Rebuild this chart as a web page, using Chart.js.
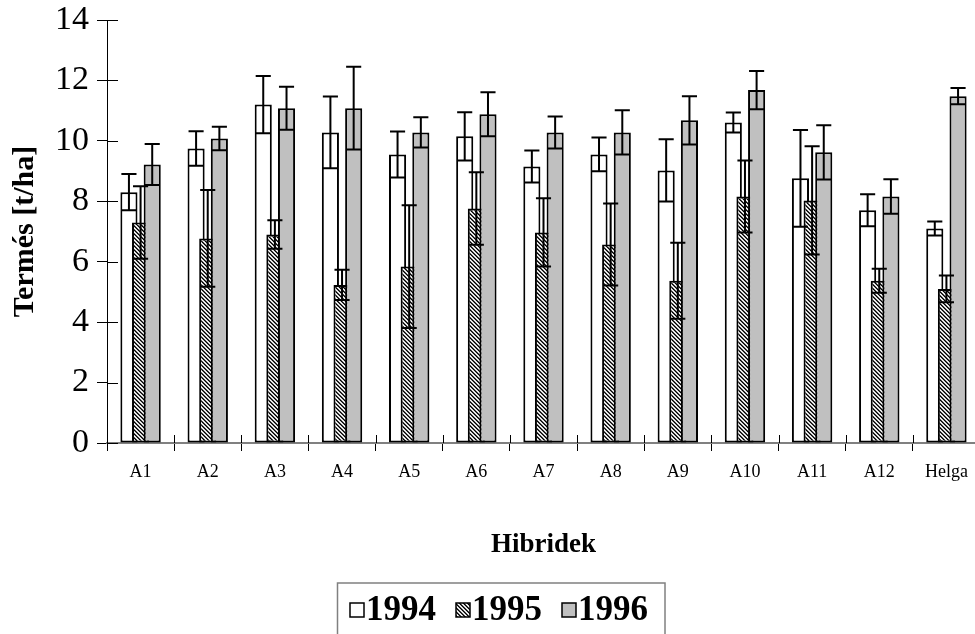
<!DOCTYPE html>
<html>
<head>
<meta charset="utf-8">
<script src="https://cdn.jsdelivr.net/npm/chart.js@4.4.0/dist/chart.umd.min.js"></script>
<style>
    html, body { margin: 0; padding: 0; background: #fff; overflow: hidden; }
    #keret { width: 980px; height: 634px; }
</style>
</head>
<body>
<div id="keret"><canvas id="grafico" width="980" height="634"></canvas></div>
<script>
var hibridek = ['A1', 'A2', 'A3', 'A4', 'A5', 'A6', 'A7', 'A8', 'A9', 'A10', 'A11', 'A12', 'Helga'];
var evek = ['1994', '1995', '1996'];

// termés t/ha és a szórás (hibasáv) évenként
var ev1994 = [8.3, 9.75, 11.2, 10.28, 9.55, 10.15, 9.15, 9.55, 9.02, 10.61, 8.76, 7.7, 7.1];
var hiba1994 = [0.6, 0.57, 0.95, 1.19, 0.76, 0.8, 0.53, 0.56, 1.03, 0.33, 1.6, 0.53, 0.23];
var ev1995 = [7.3, 6.77, 6.9, 5.23, 5.84, 7.76, 6.97, 6.57, 5.37, 8.16, 8.03, 5.37, 5.1];
var hiba1995 = [1.2, 1.6, 0.47, 0.5, 2.03, 1.2, 1.13, 1.36, 1.26, 1.19, 1.79, 0.4, 0.44];
var ev1996 = [9.22, 10.08, 11.08, 11.08, 10.28, 10.88, 10.28, 10.28, 10.68, 11.68, 9.62, 8.16, 11.48];
var hiba1996 = [0.68, 0.39, 0.71, 1.37, 0.5, 0.73, 0.53, 0.73, 0.8, 0.63, 0.9, 0.57, 0.27];

var yTicks = [0, 2, 4, 6, 8, 10, 12, 14];

var hibaSorok = [hiba1994, hiba1995, hiba1996];
var betu = 'Liberation Serif';

var ctx = document.getElementById('grafico').getContext('2d');

// sűrű ferde sraffozás az 1995-ös oszlopokhoz
function sraffozas() {
    var c = document.createElement('canvas');
    c.width = 4;
    c.height = 4;
    var g = c.getContext('2d');
    g.fillStyle = '#fff';
    g.fillRect(0, 0, 4, 4);
    for (var i = 0; i < 4; i++) {
        g.fillStyle = '#000';
        g.fillRect(i, i, 1, 1);
        g.fillStyle = '#505050';
        g.fillRect((i + 1) % 4, i, 1, 1);
        g.fillStyle = '#c8c8c8';
        g.fillRect((i + 3) % 4, i, 1, 1);
    }
    return ctx.createPattern(c, 'repeat');
}

var szinek = ['#ffffff', sraffozas(), '#c0c0c0'];

// az oszlopok sorban rajzolódnak (a későbbi év takarja a korábbit), utána a hibasávok
var rajzSorrend = {
    id: 'rajzSorrend',
    beforeDatasetsDraw: function (chart) {
        var metas = chart.getSortedVisibleDatasetMetas();
        metas.forEach(function (meta) {
            meta.controller.draw();
        });
        var c = chart.ctx;
        var y = chart.scales.y;
        c.save();
        c.strokeStyle = '#000';
        c.lineWidth = 2;
        metas.forEach(function (meta) {
            var hibak = hibaSorok[meta.index];
            var ertekek = chart.data.datasets[meta.index].data;
            meta.data.forEach(function (bar, i) {
                var fel = y.getPixelForValue(ertekek[i] + hibak[i]);
                var le = y.getPixelForValue(ertekek[i] - hibak[i]);
                var w = bar.width / 2 - 1;
                c.beginPath();
                c.moveTo(bar.x, fel);
                c.lineTo(bar.x, le);
                c.moveTo(bar.x - w, fel);
                c.lineTo(bar.x + w, fel);
                c.moveTo(bar.x - w, le);
                c.lineTo(bar.x + w, le);
                c.stroke();
            });
        });
        c.restore();
        return false;
    }
};

// a tengelyjelek a tengelyen átnyúlnak, befelé is
var belsoJelek = {
    id: 'belsoJelek',
    afterDraw: function (chart) {
        var c = chart.ctx;
        var area = chart.chartArea;
        var x = chart.scales.x;
        var y = chart.scales.y;
        c.save();
        c.strokeStyle = '#000';
        c.lineWidth = 1;
        c.beginPath();
        yTicks.forEach(function (v) {
            var py = Math.round(y.getPixelForValue(v)) + 0.5;
            c.moveTo(area.left, py);
            c.lineTo(area.left + 11, py);
        });
        for (var i = 1; i < hibridek.length; i++) {
            var px = Math.round((x.getPixelForValue(i - 1) + x.getPixelForValue(i)) / 2) + 0.5;
            c.moveTo(px, area.bottom);
            c.lineTo(px, area.bottom - 8);
        }
        c.stroke();
        c.restore();
    }
};

// jelmagyarázat kerettel az ábra alján
var jelmagyarazat = {
    id: 'jelmagyarazat',
    afterDraw: function (chart) {
        var c = chart.ctx;
        c.save();
        c.strokeStyle = '#808080';
        c.lineWidth = 1.5;
        c.strokeRect(337.5, 583, 327.5, 60);
        c.font = 'bold 35px ' + betu;
        c.textBaseline = 'middle';
        c.fillStyle = '#000';
        var px = 350;
        var py = 610;
        chart.data.datasets.forEach(function (ds) {
            c.fillStyle = ds.backgroundColor;
            c.fillRect(px, py - 7, 14, 14);
            c.strokeStyle = '#000';
            c.lineWidth = 1.5;
            c.strokeRect(px, py - 7, 14, 14);
            c.fillStyle = '#000';
            c.fillText(ds.label, px + 16, py + 1);
            px += 16 + c.measureText(ds.label).width + 20;
        });
        c.restore();
    }
};

var adatsorok = [ev1994, ev1995, ev1996].map(function (sor, i) {
    return {
        label: evek[i],
        data: sor,
        backgroundColor: szinek[i],
        borderColor: '#000',
        borderWidth: 2,
        borderSkipped: false,
        categoryPercentage: 0.52,
        barPercentage: 1.47
    };
});

var grafikon = new Chart(ctx, {
    type: 'bar',
    data: {
        labels: hibridek,
        datasets: adatsorok
    },
    options: {
        responsive: false,
        animation: false,
        devicePixelRatio: 1,
        layout: { padding: { left: 0, top: 20, right: 0, bottom: 71 } },
        plugins: {
            legend: { display: false },
            tooltip: { enabled: false }
        },
        scales: {
            x: {
                offset: true,
                grid: { offset: true, drawOnChartArea: false, tickLength: 8, color: '#000', lineWidth: 1 },
                border: { color: '#808080', width: 2 },
                ticks: { color: '#000', font: { family: betu, size: 18 }, padding: 10 },
                title: {
                    display: true,
                    text: 'Hibridek',
                    color: '#000',
                    font: { family: betu, size: 27, weight: 'bold' },
                    padding: { top: 0, bottom: 2 }
                },
                afterFit: function (scale) { scale.height = 120; }
            },
            y: {
                min: 0,
                max: 14,
                grid: { drawOnChartArea: false, tickLength: 10, color: '#000', lineWidth: 1 },
                border: { color: '#000', width: 1 },
                afterBuildTicks: function (scale) {
                    scale.ticks = yTicks.map(function (v) { return { value: v }; });
                },
                ticks: { color: '#000', font: { family: betu, size: 34, lineHeight: 1 }, padding: 8 },
                title: {
                    display: true,
                    text: 'Termés [t/ha]',
                    color: '#000',
                    font: { family: betu, size: 30, weight: 'bold' },
                    padding: 7
                },
                afterFit: function (scale) {
                    scale.width = 107;
                    scale.paddingTop = 0;
                    scale.paddingBottom = 0;
                }
            }
        }
    },
    plugins: [rajzSorrend, belsoJelek, jelmagyarazat]
});
</script>
</body>
</html>
